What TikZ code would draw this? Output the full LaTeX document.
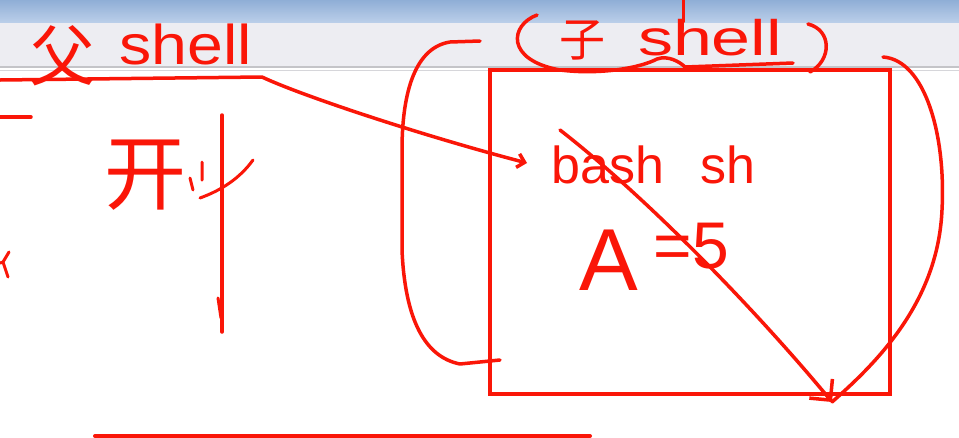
\documentclass[tikz,border=0pt]{standalone}
\usepackage{fontspec}
\setmainfont{Liberation Sans}
\newfontfamily\cjk{Noto Sans CJK SC}
\usetikzlibrary{arrows.meta}
\definecolor{ink}{RGB}{250,22,8}
\definecolor{bandtop}{RGB}{143,174,214}
\definecolor{bandbot}{RGB}{186,206,233}
\definecolor{barbg}{RGB}{237,237,242}
\definecolor{sepdark}{RGB}{196,196,200}
\definecolor{seplight}{RGB}{214,214,218}
\begin{document}
\begin{tikzpicture}[x=1pt,y=-1pt,
  inkline/.style={draw=ink,line width=3.5pt,line cap=round,line join=round},
  hand/.style={text=ink,inner sep=0pt},
  tip/.style={-{Straight Barb[length=#1,width=2*#1]}}]
\useasboundingbox (0,0) rectangle (959,437);
% window background
\fill[white] (0,0) rectangle (959,437);
\foreach \i in {0,...,22}{
  \pgfmathtruncatemacro{\p}{100-\i*100/22}
  \fill[bandtop!\p!bandbot] (0,\i) rectangle (959,\i+1.05);
}
\fill[barbg] (0,23) rectangle (959,66);
\fill[sepdark] (0,66) rectangle (959,68);
\fill[seplight] (0,70) rectangle (959,71);
% parent shell label
\node[hand,font=\cjk\fontsize{66}{66}\selectfont] (fu) at (62,56) {父};
\node[hand,font=\fontsize{56}{56}\selectfont,xscale=1.15,anchor=base] (shellL) at (186,64) {shell};
% left timeline marks
\coordinate (s1) at (0,117); \coordinate (s2) at (31,117);
\draw[inkline] (s1) -- (s2);
\draw[inkline,line width=3pt] (9,252) -- (3,262) -- (8,277) (0,263) -- (3,262);
\node[hand,font=\cjk\fontsize{82}{82}\selectfont] (kai) at (145,175) {开};
\draw[inkline,line width=3pt] (190,178) -- (193,190) (202,162) -- (202,180)
  (200,198) .. controls (222,190) and (240,178) .. (253,160);
\coordinate (vTop) at (222,115); \coordinate (vBot) at (222,332);
\draw[inkline] (vTop) -- (vBot);
\draw[inkline,line width=3pt] (218,298) -- (221,318);
% bottom line
\coordinate (b1) at (95,436); \coordinate (b2) at (590,436);
\draw[inkline,line width=4pt] (b1) -- (b2);
% child shell box
\node[draw=ink,line width=3.5pt,minimum width=400pt,minimum height=324pt,inner sep=0pt] (box) at (690,232) {};
\node[hand,font=\cjk\fontsize{46}{46}\selectfont] (zi) at (582,40) {子};
\node[hand,font=\fontsize{50}{50}\selectfont,xscale=1.4,anchor=base] (shellR) at (710,55) {shell};
\draw[inkline,line width=3pt] (683,0) -- (683,22);
\draw[inkline] (537,15) .. controls (510,25) and (505,60) .. (560,70)
  .. controls (600,75) and (640,68) .. (657,59) .. controls (668,55) and (680,62) .. (685,67) -- (793,63);
\draw[inkline] (808,24) .. controls (832,30) and (832,60) .. (810,72);
% left bracket
\coordinate (lbStart) at (480,41); \coordinate (lbEnd) at (500,360);
\draw[inkline] (lbStart) -- (450,42) .. controls (412,48) and (402,100) .. (402,150) -- (402,250)
  .. controls (405,320) and (425,357) .. (460,364) -- (lbEnd);
% texts in box
\node[hand,font=\fontsize{52}{52}\selectfont,anchor=base] (bash) at (608,183) {bash};
\node[hand,font=\fontsize{52}{52}\selectfont,anchor=base] (sh) at (728,183) {sh};
\node[hand,font=\fontsize{88}{88}\selectfont,anchor=base west] (aval) at (579,290) {A\hspace{16pt}\raisebox{22pt}{\fontsize{66}{66}\selectfont =5}};
% arrows
\coordinate (fuStart) at (0,80); \coordinate (fuBend) at (262,77); \coordinate (fuEnd) at (527,163);
\draw[inkline,tip=7pt] (fuStart) -- (fuBend) .. controls (300,95) and (420,135) .. (fuEnd);
\coordinate (dStart) at (560,130); \coordinate (dEnd) at (832,402);
\draw[inkline,tip=15pt] (dStart) .. controls (650,200) and (760,315) .. (dEnd);
\coordinate (rStart) at (883,57);
\draw[inkline] (rStart) .. controls (925,60) and (946,135) .. (942,210) .. controls (938,300) and (880,360) .. (dEnd);
\end{tikzpicture}
\end{document}
